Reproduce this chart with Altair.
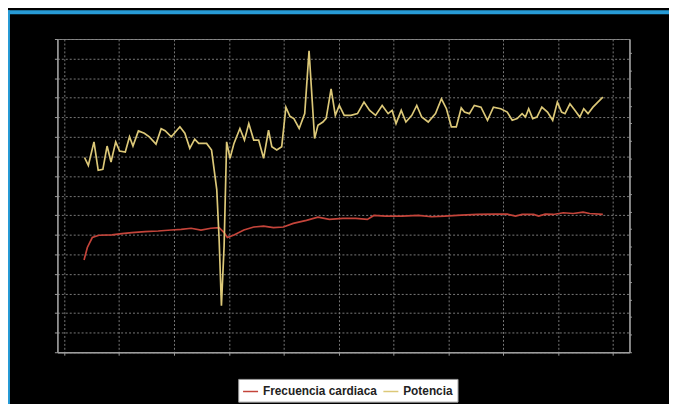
import altair as alt
import pandas as pd

# Potencia (W) vs tiempo (min)
t_power = [3.69, 4.38, 5.41, 6.18, 7.03, 7.80, 8.52, 9.37, 10.09, 11.12, 11.89, 12.52,
           13.51, 14.59, 15.50, 16.72, 17.66, 18.38, 19.51, 21.08, 21.98, 22.88, 23.78,
           24.50, 25.95, 26.85, 27.80, 28.23, 28.65, 29.14, 29.60, 30.22, 30.94, 32.02,
           32.85, 33.64, 34.54, 35.44, 36.34, 37.24, 37.84, 38.74, 39.64, 40.41, 41.14,
           41.86, 42.83, 43.84, 44.63, 45.64, 46.25, 47.15, 47.75, 48.65, 49.42, 50.14,
           51.04, 52.25, 53.46, 54.65, 55.68, 56.76, 57.96, 59.05, 59.77, 60.49, 61.44,
           62.29, 63.37, 64.27, 65.17, 66.36, 67.69, 68.77, 69.68, 70.58, 71.48, 72.38,
           72.97, 73.87, 74.77, 75.98, 77.17, 78.25, 79.59, 80.77, 81.68, 82.58, 83.48,
           84.09, 84.68, 85.41, 86.18, 87.08, 88.11, 89.06, 89.91, 90.68, 91.30, 92.20,
           93.10, 94.00, 94.72, 95.50, 96.40, 98.20]
watts = [248.7, 238.6, 268.7, 232.3, 233.5, 263.3, 243.0, 268.7, 257.0, 255.7, 275.1, 263.3,
         282.7, 279.7, 275.1, 265.8, 285.4, 282.9, 275.1, 288.0, 279.7, 260.4, 272.2,
         266.7, 266.7, 258.2, 207.6, 144.3, 59.5, 135.8, 268.7, 247.7, 266.7, 285.7,
         270.9, 292.0, 270.9, 270.9, 247.7, 283.5, 262.4, 258.2, 262.4, 313.0, 301.3,
         298.4, 285.7, 304.7, 384.8, 273.0, 289.9, 294.0, 298.7, 336.3, 302.5, 315.2,
         302.5, 302.5, 304.7, 319.4, 308.9, 302.5, 315.2, 304.7, 308.9, 292.0, 308.9,
         294.0, 302.5, 315.2, 300.4, 294.0, 304.7, 323.7, 311.0, 287.7, 287.7, 312.0,
         306.7, 304.7, 315.2, 313.0, 296.2, 313.0, 311.0, 306.7, 296.2, 298.4, 304.7,
         300.4, 311.0, 298.4, 300.4, 313.0, 306.7, 296.2, 319.4, 306.7, 304.7, 317.3,
         308.9, 300.4, 311.0, 304.7, 313.0, 325.7]

# Frecuencia cardiaca (ppm) vs tiempo (min)
t_hr = [3.60, 4.20, 5.10, 6.31, 8.70, 10.50, 12.31, 14.72, 17.12, 19.51, 21.31, 23.12,
        24.92, 26.72, 28.23, 29.14, 29.73, 30.94, 32.74, 34.54, 36.34, 38.14, 39.95,
        41.75, 44.14, 46.25, 48.34, 50.76, 53.15, 55.26, 56.45, 58.56, 61.57, 64.56,
        66.97, 69.37, 72.38, 75.37, 78.38, 80.77, 82.29, 83.48, 85.59, 86.49, 87.69,
        89.19, 90.99, 92.79, 94.59, 95.80, 98.20]
bpm = [104.8, 119.1, 130.4, 133.0, 133.3, 134.9, 136.0, 137.1, 137.8, 138.9, 139.7, 140.9,
       138.9, 140.9, 141.6, 136.0, 130.4, 133.3, 138.9, 142.3, 143.4, 141.6, 142.3,
       146.5, 149.9, 153.6, 151.0, 152.1, 152.1, 151.0, 155.5, 154.7, 154.7, 155.5,
       154.0, 154.7, 155.8, 156.6, 157.0, 157.0, 154.7, 156.6, 156.6, 154.7, 157.0,
       156.6, 158.5, 157.7, 159.2, 157.7, 156.6]

series = ["Frecuencia cardiaca", "Potencia"]
x_ticks = list(range(0, 101, 10))
power_ticks = list(range(0, 401, 25))
hr_ticks = list(range(0, 341, 20))

RED = "#c4443a"
YELLOW = "#dcc878"
BLUE = "#279bd6"
GRID = "#7a7a7a"
AXIS = "#9c9c9c"

power_df = pd.DataFrame({"t": t_power, "v": watts, "serie": series[1]})
hr_df = pd.DataFrame({"t": t_hr, "v": bpm, "serie": series[0]})

color = alt.Color(
    "serie:N",
    scale=alt.Scale(domain=series, range=[RED, YELLOW]),
    legend=alt.Legend(
        title=None, orient="none", direction="horizontal",
        legendX=183, legendY=344,
        symbolType="stroke", symbolSize=230, symbolStrokeWidth=1.5,
        labelFont="Liberation Sans",
        labelFontSize=12, labelFontWeight="bold", labelColor="#222222",
        fillColor="#ffffff", padding=4,
        columnPadding=2, labelOffset=4, labelLimit=300,
    ),
)

x = alt.X(
    "t:Q",
    scale=alt.Scale(domain=[-1.26, 103.06], nice=False, zero=False),
    axis=alt.Axis(values=x_ticks, labels=False, title=None, grid=True,
                  gridColor=GRID, gridDash=[2, 2], gridWidth=1,
                  tickColor=AXIS, tickSize=3, domainColor=AXIS, domainWidth=1.5),
)

hr = alt.Chart(hr_df).mark_line(strokeWidth=1.7).encode(
    x=x,
    y=alt.Y("v:Q", scale=alt.Scale(domain=[0, 356], nice=False),
            axis=alt.Axis(orient="right", values=hr_ticks, labels=False, title=None,
                          grid=False, tickColor=AXIS, tickSize=2,
                          domainColor=AXIS, domainWidth=1.5)),
    color=color,
)

power = alt.Chart(power_df).mark_line(strokeWidth=1.7).encode(
    x=x,
    y=alt.Y("v:Q", scale=alt.Scale(domain=[0, 400], nice=False),
            axis=alt.Axis(orient="left", values=power_ticks, labels=False, title=None,
                          grid=True, gridColor=GRID, gridDash=[2, 2], gridWidth=1,
                          tickColor=AXIS, tickSize=3,
                          domainColor=AXIS, domainWidth=1.5)),
    color=color,
)

frame_df = pd.DataFrame({"a": [0]})
top_band = alt.Chart(frame_df).mark_rule(color=BLUE, strokeWidth=4).encode(
    x=alt.value(-50), x2=alt.value(619), y=alt.value(-27))
left_band = alt.Chart(frame_df).mark_rule(color=BLUE, strokeWidth=2).encode(
    x=alt.value(-49), y=alt.value(-29), y2=alt.value(370))

chart = alt.layer(hr, power, top_band, left_band).resolve_scale(
    y="independent"
).properties(
    width=579, height=317,
    padding={"left": 50, "top": 29, "right": 40, "bottom": 50},
    autosize=alt.AutoSizeParams(type="none"),
    background="#000000",
).configure_view(
    stroke="#8a8a8a", strokeWidth=1
).configure_legend(
    strokeColor="#999999"
)

chart.save("out.html", embed_options={"renderer": "svg", "actions": False})
